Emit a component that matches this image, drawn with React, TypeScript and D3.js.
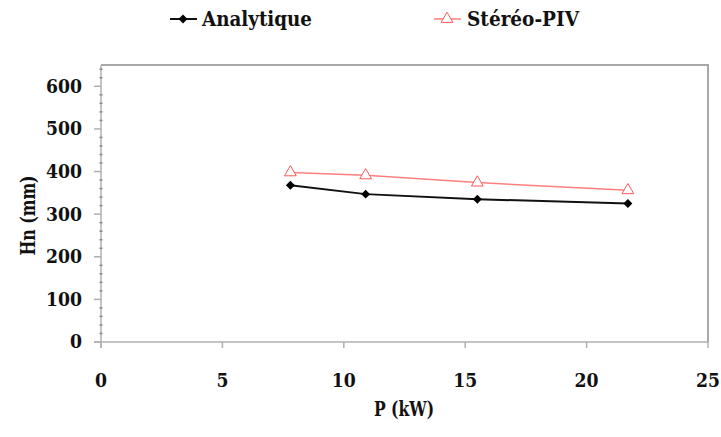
import * as d3 from "d3";
import React from "react";

const power = [7.8, 10.9, 15.5, 21.7];
const analytique = [368, 347, 335, 325];
const stereo = [398, 391, 374, 356];
const xTicks = [0, 5, 10, 15, 20, 25];
const yTicks = [0, 100, 200, 300, 400, 500, 600];

const font = "DejaVu Serif";

export default function App() {
    const width = 721;
    const height = 437;
    const left = 101;
    const right = 708;
    const top = 65;
    const bottom = 342;

    const x = d3.scaleLinear().domain([0, 25]).range([left, right]);
    const y = d3.scaleLinear().domain([0, 650]).range([bottom, top]);

    const line = d3.line<number>()
        .x((d, i) => x(power[i]))
        .y((d) => y(d));

    const diamond = d3.symbol().type(d3.symbolSquare).size(40)();
    const triangle = d3.symbol().type(d3.symbolTriangle).size(60)();

    const minorY = d3.range(0, 650, 20).filter((v) => v % 100 !== 0);
    const axisColor = "#b0b0b0";
    const textStyle = { fontFamily: font, fontWeight: "bold" as const, fill: "#111" };

    return (
        <svg
            width={width}
            height={height}
            style={{ position: "absolute", left: 0, top: 0, background: "white" }}
        >
            {/* frame */}
            <path
                d={`M${left},${top}H${right}V${bottom}`}
                fill="none"
                stroke="#a8a8a8"
                strokeWidth={2}
            />
            {/* axes */}
            <line x1={left} x2={left} y1={top} y2={bottom + 6} stroke={axisColor} strokeWidth={1.5} />
            <line x1={left - 7} x2={right} y1={bottom} y2={bottom} stroke={axisColor} strokeWidth={1.5} />
            {yTicks.map((t) => (
                <g key={"y" + t}>
                    <line x1={left - 7} x2={left} y1={y(t)} y2={y(t)} stroke={axisColor} strokeWidth={1.5} />
                    <text x={left - 19} y={y(t)} dy="0.36em" textAnchor="end" fontSize={18} style={textStyle}
                        textLength={String(t).length * 12} lengthAdjust="spacingAndGlyphs">
                        {t}
                    </text>
                </g>
            ))}
            {minorY.map((t) => (
                <line key={"m" + t} x1={left - 1.5} x2={left + 1.5} y1={y(t)} y2={y(t)} stroke="#888" strokeWidth={1.5} />
            ))}
            {xTicks.map((t) => (
                <g key={"x" + t}>
                    <line x1={x(t)} x2={x(t)} y1={bottom} y2={bottom + 6} stroke={axisColor} strokeWidth={1.5} />
                    <text x={x(t)} y={bottom + 45} textAnchor="middle" fontSize={18} style={textStyle}
                        textLength={String(t).length * 12} lengthAdjust="spacingAndGlyphs">
                        {t}
                    </text>
                </g>
            ))}
            {/* axis titles */}
            <text x={404} y={416} textAnchor="middle" fontSize={20} style={textStyle}
                textLength={60} lengthAdjust="spacingAndGlyphs">
                P (kW)
            </text>
            <text
                transform={`translate(35, ${(top + bottom) / 2 + 12}) rotate(-90)`}
                textAnchor="middle"
                fontSize={20}
                style={textStyle}
                textLength={80}
                lengthAdjust="spacingAndGlyphs"
            >
                Hn (mm)
            </text>

            {/* series */}
            <path d={line(stereo) || undefined} fill="none" stroke="#ff7f7f" strokeWidth={1.5} />
            <path d={line(analytique) || undefined} fill="none" stroke="#111" strokeWidth={2} />
            {analytique.map((v, i) => (
                <path
                    key={"a" + i}
                    d={diamond || undefined}
                    transform={`translate(${x(power[i])},${y(v)}) rotate(45)`}
                    fill="#000"
                />
            ))}
            {stereo.map((v, i) => (
                <path
                    key={"s" + i}
                    d={triangle || undefined}
                    transform={`translate(${x(power[i])},${y(v)})`}
                    fill="white"
                    stroke="#ff5a5a"
                    strokeWidth={1}
                />
            ))}

            {/* legend */}
            <line x1={170} x2={197} y1={19} y2={19} stroke="#111" strokeWidth={2} />
            <path d={diamond || undefined} transform="translate(183,19) rotate(45)" fill="#000" />
            <text x={202} y={26} fontSize={20} style={textStyle} textLength={110} lengthAdjust="spacingAndGlyphs">
                Analytique
            </text>
            <line x1={434} x2={461} y1={19} y2={19} stroke="#ff7f7f" strokeWidth={1.5} />
            <path d={triangle || undefined} transform="translate(447,19)" fill="white" stroke="#ff5a5a" strokeWidth={1} />
            <text x={467} y={26} fontSize={20} style={textStyle} textLength={112} lengthAdjust="spacingAndGlyphs">
                Stéréo-PIV
            </text>
        </svg>
    );
}
